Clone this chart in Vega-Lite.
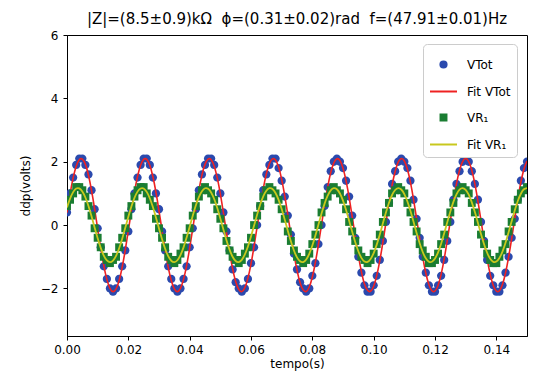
{
"$schema": "https://vega.github.io/schema/vega-lite/v6.json",
"width": 460, "height": 301,
"autosize": {"type": "none"},
"padding": {"left": 67, "top": 35, "right": 7, "bottom": 40},
"background": "white",
"title": {"text": "|Z|=(8.5±0.9)kΩ\u00a0\u00a0ϕ=(0.31±0.02)rad\u00a0\u00a0f=(47.91±0.01)Hz", "fontSize": 15, "font": "DejaVu Sans", "fontWeight": "normal", "color": "black", "anchor": "middle", "frame": "group", "baseline": "alphabetic", "offset": -10},
"config": {"font": "DejaVu Sans", "view": {"stroke": "black", "strokeWidth": 1},
  "legend": {"orient": "none", "legendX": 356, "legendY": 9,
      "labelFontSize": 12, "labelColor": "black", "symbolSize": 729, "symbolStrokeWidth": 2, "symbolOpacity": 1,
      "padding": 6, "rowPadding": 5, "labelOffset": 9,
      "strokeColor": "#cccccc", "fillColor": "white", "cornerRadius": 4}},
"data": {"values": [
{"t":0.000,"VTot":0.4,"FitTot":0.392,"VR1":0.6,"FitR1":0.558},
{"t":0.001,"VTot":1.0,"FitTot":0.985,"VR1":0.8,"FitR1":0.837},
{"t":0.002,"VTot":1.5,"FitTot":1.490,"VR1":1.0,"FitR1":1.041},
{"t":0.003,"VTot":1.9,"FitTot":1.860,"VR1":1.2,"FitR1":1.153},
{"t":0.004,"VTot":2.1,"FitTot":2.065,"VR1":1.2,"FitR1":1.159},
{"t":0.005,"VTot":2.1,"FitTot":2.083,"VR1":1.1,"FitR1":1.063},
{"t":0.006,"VTot":1.9,"FitTot":1.916,"VR1":0.9,"FitR1":0.871},
{"t":0.007,"VTot":1.6,"FitTot":1.575,"VR1":0.6,"FitR1":0.601},
{"t":0.008,"VTot":1.1,"FitTot":1.094,"VR1":0.3,"FitR1":0.277},
{"t":0.009,"VTot":0.5,"FitTot":0.515,"VR1":-0.1,"FitR1":-0.072},
{"t":0.010,"VTot":-0.1,"FitTot":-0.110,"VR1":-0.4,"FitR1":-0.414},
{"t":0.011,"VTot":-0.7,"FitTot":-0.726,"VR1":-0.7,"FitR1":-0.719},
{"t":0.012,"VTot":-1.3,"FitTot":-1.276,"VR1":-1.0,"FitR1":-0.961},
{"t":0.013,"VTot":-1.7,"FitTot":-1.713,"VR1":-1.1,"FitR1":-1.114},
{"t":0.014,"VTot":-2.0,"FitTot":-1.994,"VR1":-1.2,"FitR1":-1.170},
{"t":0.015,"VTot":-2.1,"FitTot":-2.100,"VR1":-1.1,"FitR1":-1.119},
{"t":0.016,"VTot":-2.0,"FitTot":-2.013,"VR1":-1.0,"FitR1":-0.968},
{"t":0.017,"VTot":-1.7,"FitTot":-1.748,"VR1":-0.7,"FitR1":-0.731},
{"t":0.018,"VTot":-1.3,"FitTot":-1.326,"VR1":-0.4,"FitR1":-0.427},
{"t":0.019,"VTot":-0.8,"FitTot":-0.785,"VR1":-0.1,"FitR1":-0.086},
{"t":0.020,"VTot":-0.2,"FitTot":-0.173,"VR1":0.3,"FitR1":0.263},
{"t":0.021,"VTot":0.5,"FitTot":0.454,"VR1":0.6,"FitR1":0.589},
{"t":0.022,"VTot":1.0,"FitTot":1.041,"VR1":0.9,"FitR1":0.861},
{"t":0.023,"VTot":1.5,"FitTot":1.533,"VR1":1.1,"FitR1":1.057},
{"t":0.024,"VTot":1.9,"FitTot":1.889,"VR1":1.2,"FitR1":1.157},
{"t":0.025,"VTot":2.1,"FitTot":2.075,"VR1":1.2,"FitR1":1.155},
{"t":0.026,"VTot":2.1,"FitTot":2.075,"VR1":1.0,"FitR1":1.048},
{"t":0.027,"VTot":1.9,"FitTot":1.889,"VR1":0.8,"FitR1":0.847},
{"t":0.028,"VTot":1.5,"FitTot":1.533,"VR1":0.6,"FitR1":0.570},
{"t":0.029,"VTot":1.0,"FitTot":1.041,"VR1":0.2,"FitR1":0.242},
{"t":0.030,"VTot":0.5,"FitTot":0.453,"VR1":-0.1,"FitR1":-0.107},
{"t":0.031,"VTot":-0.2,"FitTot":-0.174,"VR1":-0.4,"FitR1":-0.447},
{"t":0.032,"VTot":-0.8,"FitTot":-0.785,"VR1":-0.7,"FitR1":-0.747},
{"t":0.033,"VTot":-1.3,"FitTot":-1.326,"VR1":-1.0,"FitR1":-0.980},
{"t":0.034,"VTot":-1.7,"FitTot":-1.748,"VR1":-1.1,"FitR1":-1.125},
{"t":0.035,"VTot":-2.0,"FitTot":-2.013,"VR1":-1.2,"FitR1":-1.170},
{"t":0.036,"VTot":-2.1,"FitTot":-2.100,"VR1":-1.1,"FitR1":-1.108},
{"t":0.037,"VTot":-2.0,"FitTot":-1.994,"VR1":-0.9,"FitR1":-0.948},
{"t":0.038,"VTot":-1.7,"FitTot":-1.713,"VR1":-0.7,"FitR1":-0.703},
{"t":0.039,"VTot":-1.3,"FitTot":-1.276,"VR1":-0.4,"FitR1":-0.395},
{"t":0.040,"VTot":-0.7,"FitTot":-0.726,"VR1":-0.1,"FitR1":-0.051},
{"t":0.041,"VTot":-0.1,"FitTot":-0.110,"VR1":0.3,"FitR1":0.297},
{"t":0.042,"VTot":0.5,"FitTot":0.515,"VR1":0.6,"FitR1":0.619},
{"t":0.043,"VTot":1.1,"FitTot":1.095,"VR1":0.9,"FitR1":0.885},
{"t":0.044,"VTot":1.6,"FitTot":1.576,"VR1":1.1,"FitR1":1.071},
{"t":0.045,"VTot":1.9,"FitTot":1.916,"VR1":1.2,"FitR1":1.162},
{"t":0.046,"VTot":2.1,"FitTot":2.083,"VR1":1.1,"FitR1":1.148},
{"t":0.047,"VTot":2.1,"FitTot":2.065,"VR1":1.0,"FitR1":1.031},
{"t":0.048,"VTot":1.9,"FitTot":1.860,"VR1":0.8,"FitR1":0.823},
{"t":0.049,"VTot":1.5,"FitTot":1.490,"VR1":0.5,"FitR1":0.539},
{"t":0.050,"VTot":1.0,"FitTot":0.985,"VR1":0.2,"FitR1":0.208},
{"t":0.051,"VTot":0.4,"FitTot":0.392,"VR1":-0.1,"FitR1":-0.142},
{"t":0.052,"VTot":-0.2,"FitTot":-0.236,"VR1":-0.5,"FitR1":-0.479},
{"t":0.053,"VTot":-0.8,"FitTot":-0.843,"VR1":-0.8,"FitR1":-0.774},
{"t":0.054,"VTot":-1.4,"FitTot":-1.375,"VR1":-1.0,"FitR1":-0.998},
{"t":0.055,"VTot":-1.8,"FitTot":-1.782,"VR1":-1.1,"FitR1":-1.134},
{"t":0.056,"VTot":-2.0,"FitTot":-2.031,"VR1":-1.2,"FitR1":-1.168},
{"t":0.057,"VTot":-2.1,"FitTot":-2.098,"VR1":-1.1,"FitR1":-1.097},
{"t":0.058,"VTot":-2.0,"FitTot":-1.975,"VR1":-0.9,"FitR1":-0.927},
{"t":0.059,"VTot":-1.7,"FitTot":-1.675,"VR1":-0.7,"FitR1":-0.675},
{"t":0.060,"VTot":-1.2,"FitTot":-1.226,"VR1":-0.4,"FitR1":-0.361},
{"t":0.061,"VTot":-0.7,"FitTot":-0.666,"VR1":0.0,"FitR1":-0.016},
{"t":0.062,"VTot":0.0,"FitTot":-0.047,"VR1":0.3,"FitR1":0.331},
{"t":0.063,"VTot":0.6,"FitTot":0.576,"VR1":0.6,"FitR1":0.648},
{"t":0.064,"VTot":1.1,"FitTot":1.148,"VR1":0.9,"FitR1":0.907},
{"t":0.065,"VTot":1.6,"FitTot":1.617,"VR1":1.1,"FitR1":1.085},
{"t":0.066,"VTot":1.9,"FitTot":1.940,"VR1":1.2,"FitR1":1.166},
{"t":0.067,"VTot":2.1,"FitTot":2.091,"VR1":1.1,"FitR1":1.141},
{"t":0.068,"VTot":2.1,"FitTot":2.052,"VR1":1.0,"FitR1":1.015},
{"t":0.069,"VTot":1.8,"FitTot":1.831,"VR1":0.8,"FitR1":0.797},
{"t":0.070,"VTot":1.4,"FitTot":1.444,"VR1":0.5,"FitR1":0.508},
{"t":0.071,"VTot":0.9,"FitTot":0.928,"VR1":0.2,"FitR1":0.173},
{"t":0.072,"VTot":0.3,"FitTot":0.330,"VR1":-0.2,"FitR1":-0.177},
{"t":0.073,"VTot":-0.3,"FitTot":-0.299,"VR1":-0.5,"FitR1":-0.511},
{"t":0.074,"VTot":-0.9,"FitTot":-0.901,"VR1":-0.8,"FitR1":-0.800},
{"t":0.075,"VTot":-1.4,"FitTot":-1.421,"VR1":-1.0,"FitR1":-1.017},
{"t":0.076,"VTot":-1.8,"FitTot":-1.816,"VR1":-1.1,"FitR1":-1.142},
{"t":0.077,"VTot":-2.0,"FitTot":-2.045,"VR1":-1.2,"FitR1":-1.166},
{"t":0.078,"VTot":-2.1,"FitTot":-2.094,"VR1":-1.1,"FitR1":-1.083},
{"t":0.079,"VTot":-2.0,"FitTot":-1.952,"VR1":-0.9,"FitR1":-0.905},
{"t":0.080,"VTot":-1.6,"FitTot":-1.636,"VR1":-0.6,"FitR1":-0.645},
{"t":0.081,"VTot":-1.2,"FitTot":-1.174,"VR1":-0.3,"FitR1":-0.327},
{"t":0.082,"VTot":-0.6,"FitTot":-0.606,"VR1":0.0,"FitR1":0.020},
{"t":0.083,"VTot":0.0,"FitTot":0.016,"VR1":0.4,"FitR1":0.365},
{"t":0.084,"VTot":0.6,"FitTot":0.637,"VR1":0.7,"FitR1":0.678},
{"t":0.085,"VTot":1.2,"FitTot":1.201,"VR1":0.9,"FitR1":0.929},
{"t":0.086,"VTot":1.7,"FitTot":1.656,"VR1":1.1,"FitR1":1.098},
{"t":0.087,"VTot":2.0,"FitTot":1.964,"VR1":1.2,"FitR1":1.168},
{"t":0.088,"VTot":2.1,"FitTot":2.096,"VR1":1.1,"FitR1":1.133},
{"t":0.089,"VTot":2.0,"FitTot":2.038,"VR1":1.0,"FitR1":0.997},
{"t":0.090,"VTot":1.8,"FitTot":1.799,"VR1":0.8,"FitR1":0.771},
{"t":0.091,"VTot":1.4,"FitTot":1.397,"VR1":0.5,"FitR1":0.476},
{"t":0.092,"VTot":0.9,"FitTot":0.872,"VR1":0.1,"FitR1":0.138},
{"t":0.093,"VTot":0.3,"FitTot":0.267,"VR1":-0.2,"FitR1":-0.212},
{"t":0.094,"VTot":-0.4,"FitTot":-0.361,"VR1":-0.5,"FitR1":-0.543},
{"t":0.095,"VTot":-1.0,"FitTot":-0.957,"VR1":-0.8,"FitR1":-0.826},
{"t":0.096,"VTot":-1.5,"FitTot":-1.468,"VR1":-1.0,"FitR1":-1.033},
{"t":0.097,"VTot":-1.9,"FitTot":-1.862,"VR1":-1.1,"FitR1":-1.149},
{"t":0.098,"VTot":-2.1,"FitTot":-2.059,"VR1":-1.2,"FitR1":-1.162},
{"t":0.099,"VTot":-2.1,"FitTot":-2.088,"VR1":-1.1,"FitR1":-1.070},
{"t":0.100,"VTot":-1.9,"FitTot":-1.928,"VR1":-0.9,"FitR1":-0.882},
{"t":0.101,"VTot":-1.6,"FitTot":-1.596,"VR1":-0.6,"FitR1":-0.616},
{"t":0.102,"VTot":-1.1,"FitTot":-1.121,"VR1":-0.3,"FitR1":-0.294},
{"t":0.103,"VTot":-0.5,"FitTot":-0.546,"VR1":0.1,"FitR1":0.055},
{"t":0.104,"VTot":0.1,"FitTot":0.079,"VR1":0.4,"FitR1":0.398},
{"t":0.105,"VTot":0.7,"FitTot":0.697,"VR1":0.7,"FitR1":0.706},
{"t":0.106,"VTot":1.3,"FitTot":1.252,"VR1":1.0,"FitR1":0.950},
{"t":0.107,"VTot":1.7,"FitTot":1.694,"VR1":1.1,"FitR1":1.109},
{"t":0.108,"VTot":2.0,"FitTot":1.985,"VR1":1.2,"FitR1":1.170},
{"t":0.109,"VTot":2.1,"FitTot":2.099,"VR1":1.1,"FitR1":1.124},
{"t":0.110,"VTot":2.0,"FitTot":2.023,"VR1":1.0,"FitR1":0.978},
{"t":0.111,"VTot":1.8,"FitTot":1.765,"VR1":0.7,"FitR1":0.744},
{"t":0.112,"VTot":1.4,"FitTot":1.351,"VR1":0.4,"FitR1":0.443},
{"t":0.113,"VTot":0.8,"FitTot":0.813,"VR1":0.1,"FitR1":0.103},
{"t":0.114,"VTot":0.2,"FitTot":0.204,"VR1":-0.2,"FitR1":-0.246},
{"t":0.115,"VTot":-0.4,"FitTot":-0.423,"VR1":-0.6,"FitR1":-0.574},
{"t":0.116,"VTot":-1.0,"FitTot":-1.013,"VR1":-0.8,"FitR1":-0.849},
{"t":0.117,"VTot":-1.5,"FitTot":-1.512,"VR1":-1.0,"FitR1":-1.049},
{"t":0.118,"VTot":-1.9,"FitTot":-1.875,"VR1":-1.2,"FitR1":-1.155},
{"t":0.119,"VTot":-2.1,"FitTot":-2.071,"VR1":-1.2,"FitR1":-1.157},
{"t":0.120,"VTot":-2.1,"FitTot":-2.079,"VR1":-1.1,"FitR1":-1.056},
{"t":0.121,"VTot":-1.9,"FitTot":-1.903,"VR1":-0.9,"FitR1":-0.859},
{"t":0.122,"VTot":-1.6,"FitTot":-1.554,"VR1":-0.6,"FitR1":-0.586},
{"t":0.123,"VTot":-1.1,"FitTot":-1.067,"VR1":-0.3,"FitR1":-0.259},
{"t":0.124,"VTot":-0.5,"FitTot":-0.484,"VR1":0.1,"FitR1":0.090},
{"t":0.125,"VTot":0.1,"FitTot":0.142,"VR1":0.4,"FitR1":0.431},
{"t":0.126,"VTot":0.8,"FitTot":0.756,"VR1":0.7,"FitR1":0.734},
{"t":0.127,"VTot":1.3,"FitTot":1.302,"VR1":1.0,"FitR1":0.970},
{"t":0.128,"VTot":1.7,"FitTot":1.731,"VR1":1.1,"FitR1":1.120},
{"t":0.129,"VTot":2.0,"FitTot":2.004,"VR1":1.2,"FitR1":1.170},
{"t":0.130,"VTot":2.1,"FitTot":2.100,"VR1":1.1,"FitR1":1.113},
{"t":0.131,"VTot":2.0,"FitTot":2.004,"VR1":1.0,"FitR1":0.959},
{"t":0.132,"VTot":1.7,"FitTot":1.731,"VR1":0.7,"FitR1":0.716},
{"t":0.133,"VTot":1.3,"FitTot":1.301,"VR1":0.4,"FitR1":0.411},
{"t":0.134,"VTot":0.8,"FitTot":0.755,"VR1":0.1,"FitR1":0.068},
{"t":0.135,"VTot":0.1,"FitTot":0.141,"VR1":-0.3,"FitR1":-0.280},
{"t":0.136,"VTot":-0.5,"FitTot":-0.484,"VR1":-0.6,"FitR1":-0.604},
{"t":0.137,"VTot":-1.1,"FitTot":-1.068,"VR1":-0.9,"FitR1":-0.873},
{"t":0.138,"VTot":-1.6,"FitTot":-1.555,"VR1":-1.1,"FitR1":-1.065},
{"t":0.139,"VTot":-1.9,"FitTot":-1.903,"VR1":-1.2,"FitR1":-1.160},
{"t":0.140,"VTot":-2.1,"FitTot":-2.079,"VR1":-1.2,"FitR1":-1.152},
{"t":0.141,"VTot":-2.1,"FitTot":-2.071,"VR1":-1.0,"FitR1":-1.039},
{"t":0.142,"VTot":-1.9,"FitTot":-1.874,"VR1":-0.8,"FitR1":-0.835},
{"t":0.143,"VTot":-1.5,"FitTot":-1.511,"VR1":-0.6,"FitR1":-0.555},
{"t":0.144,"VTot":-1.0,"FitTot":-1.012,"VR1":-0.2,"FitR1":-0.225},
{"t":0.145,"VTot":-0.4,"FitTot":-0.423,"VR1":0.1,"FitR1":0.125},
{"t":0.146,"VTot":0.2,"FitTot":0.205,"VR1":0.5,"FitR1":0.463},
{"t":0.147,"VTot":0.8,"FitTot":0.814,"VR1":0.8,"FitR1":0.761},
{"t":0.148,"VTot":1.4,"FitTot":1.352,"VR1":1.0,"FitR1":0.989},
{"t":0.149,"VTot":1.8,"FitTot":1.765,"VR1":1.1,"FitR1":1.130},
{"t":0.150,"VTot":2.0,"FitTot":2.023,"VR1":1.2,"FitR1":1.169}
]},
"encoding": {
  "x": {"field": "t", "type": "quantitative",
        "scale": {"domain": [0, 0.15], "nice": false, "zero": false},
        "axis": {"values": [0, 0.02, 0.04, 0.06, 0.08, 0.1, 0.12, 0.14], "format": ".2f", "title": "tempo(s)", "grid": false,
                 "labelFontSize": 12, "titleFontSize": 12, "titleFontWeight": "normal", "labelColor": "black", "titleColor": "black",
                 "tickSize": 4, "tickColor": "black", "domainColor": "black", "labelPadding": 4, "titlePadding": 3, "labelFlush": false, "labelOverlap": false}},
  "y": {"field": "v", "type": "quantitative",
        "scale": {"domain": [-3.5, 6], "nice": false, "zero": false},
        "axis": {"values": [-2, 0, 2, 4, 6], "title": "ddp(volts)", "grid": false,
                 "labelFontSize": 12, "titleFontSize": 12, "titleFontWeight": "normal", "labelColor": "black", "titleColor": "black",
                 "tickSize": 4, "tickColor": "black", "domainColor": "black", "labelPadding": 5, "titlePadding": 8, "labelFlush": false, "labelOverlap": false}},
  "color": {"field": "series", "type": "nominal",
    "scale": {"domain": ["VTot", "FitTot", "VR1", "FitR1"], "range": ["#2b4aae", "#ee2222", "#1a7d32", "#c8c81e"]},
    "legend": {"title": null,
      "labelExpr": "datum.value === 'VTot' ? 'VTot' : datum.value === 'FitTot' ? 'Fit VTot' : datum.value === 'VR1' ? 'VR₁' : 'Fit VR₁'"}}
},
"layer": [
  {"transform": [{"fold": ["VTot"], "as": ["series", "v"]}],
   "mark": {"type": "point", "filled": true, "opacity": 1, "size": 1296, "clip": true},
   "encoding": {"shape": {"field": "series", "type": "nominal",
     "scale": {"domain": ["VTot", "FitTot", "VR1", "FitR1"], "range": ["M-0.23,0A0.23,0.23,0,1,1,0.23,0A0.23,0.23,0,1,1,-0.23,0Z", "stroke", "M-0.22,-0.22H0.22V0.22H-0.22Z", "stroke"]},
     "legend": {"title": null,
      "labelExpr": "datum.value === 'VTot' ? 'VTot' : datum.value === 'FitTot' ? 'Fit VTot' : datum.value === 'VR1' ? 'VR₁' : 'Fit VR₁'"}}}},
  {"transform": [{"fold": ["FitTot"], "as": ["series", "v"]}],
   "mark": {"type": "line", "strokeWidth": 1.6, "interpolate": "natural", "clip": true}},
  {"transform": [{"fold": ["VR1"], "as": ["series", "v"]}],
   "mark": {"type": "point", "filled": true, "opacity": 1, "size": 1296, "clip": true},
   "encoding": {"shape": {"field": "series", "type": "nominal",
     "scale": {"domain": ["VTot", "FitTot", "VR1", "FitR1"], "range": ["M-0.23,0A0.23,0.23,0,1,1,0.23,0A0.23,0.23,0,1,1,-0.23,0Z", "stroke", "M-0.22,-0.22H0.22V0.22H-0.22Z", "stroke"]},
     "legend": {"title": null,
      "labelExpr": "datum.value === 'VTot' ? 'VTot' : datum.value === 'FitTot' ? 'Fit VTot' : datum.value === 'VR1' ? 'VR₁' : 'Fit VR₁'"}}}},
  {"transform": [{"fold": ["FitR1"], "as": ["series", "v"]}],
   "mark": {"type": "line", "strokeWidth": 1.8, "interpolate": "natural", "clip": true}}
]
}
